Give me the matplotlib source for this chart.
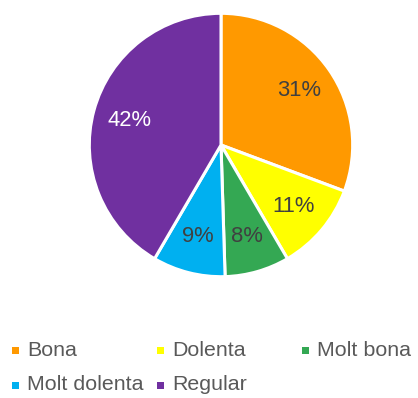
import matplotlib
matplotlib.use("Agg")
import matplotlib.pyplot as plt
from matplotlib.patches import Rectangle

plt.rcParams['font.family'] = ['Liberation Sans', 'DejaVu Sans']

categories = ["Bona", "Dolenta", "Molt bona", "Molt dolenta", "Regular"]
values = [31, 11, 8, 9, 42]
colors = ["#FF9900", "#FFFF00", "#34A853", "#00B0F0", "#7030A0"]
label_colors = ["#404040", "#404040", "#404040", "#404040", "#FFFFFF"]

W, H = 418, 398
fig = plt.figure(figsize=(W / 100, H / 100), dpi=100)

# pie axes: centre (221, 145) px, radius 133 px
cx, cy, r = 221, 145, 133
ax = fig.add_axes([(cx - r) / W, (H - cy - r) / H, 2 * r / W, 2 * r / H])
wedges, texts, autotexts = ax.pie(
    values, colors=colors, startangle=90, counterclock=False,
    autopct=lambda p: f"{p * sum(values) / 100:.0f}%", pctdistance=0.72,
    wedgeprops=dict(edgecolor="white", linewidth=2.2),
    textprops=dict(fontsize=15.8),
)
for t, c in zip(autotexts, label_colors):
    t.set_color(c)
ax.set_xlim(-1.01, 1.01)
ax.set_ylim(-1.01, 1.01)
ax.set_aspect("equal")
ax.axis("off")

# legend laid out on a fixed three-column grid
col_x = [12, 157, 302]
row_y = [350, 385]
for i, (name, col) in enumerate(zip(categories, colors)):
    x = col_x[i % 3]
    y = row_y[i // 3]
    fig.patches.append(Rectangle((x / W, (H - y - 3.5) / H), 7 / W, 7 / H,
                                 transform=fig.transFigure, facecolor=col,
                                 edgecolor="none"))
    fig.text((x + 15) / W, (H - y) / H, name, fontsize=15.4, color="#595959",
             va="center", ha="left")

fig.savefig("out.png", dpi=100)
